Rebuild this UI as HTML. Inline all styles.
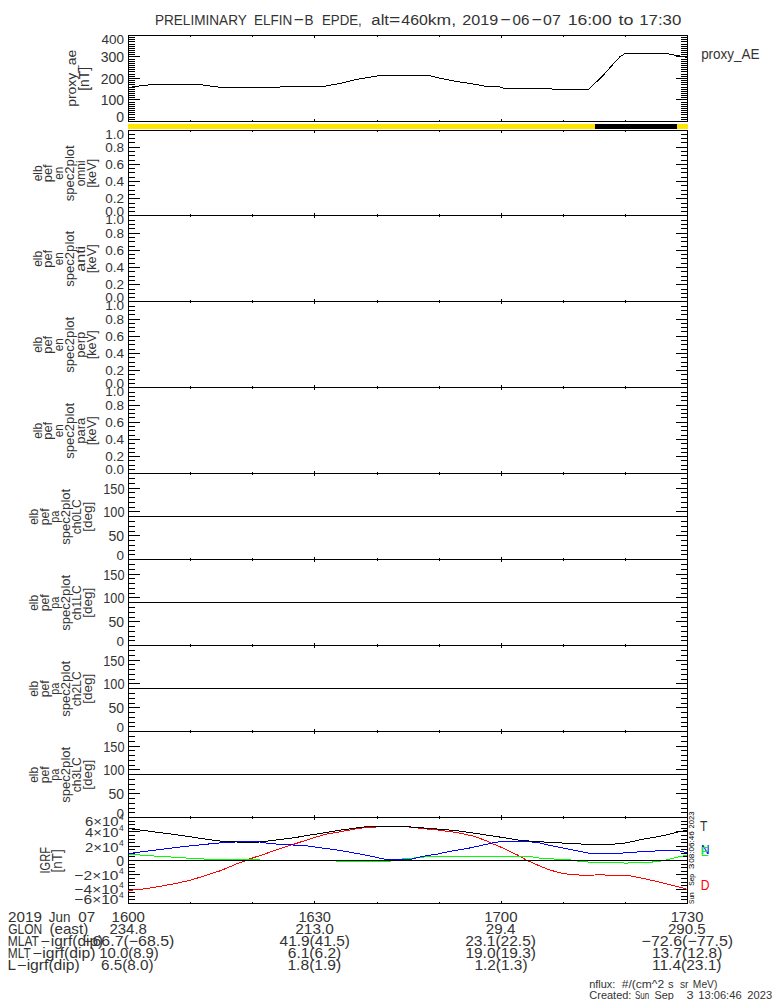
<!DOCTYPE html>
<html><head><meta charset="utf-8"><style>
html,body{margin:0;padding:0;background:#fff;width:775px;height:1000px;overflow:hidden}
svg{display:block}
text{font-family:"Liberation Sans",sans-serif}
rect{shape-rendering:crispEdges}
polyline{shape-rendering:crispEdges}
</style></head><body>
<svg width="775" height="1000" viewBox="0 0 775 1000">
<rect x="0" y="0" width="775" height="1000" fill="#fff"/>
<text x="154.89" y="25" font-size="15.5" text-anchor="start" fill="#333" textLength="91.91" lengthAdjust="spacingAndGlyphs">PRELIMINARY</text>
<text x="253.89" y="25" font-size="15.5" text-anchor="start" fill="#333" textLength="38.31" lengthAdjust="spacingAndGlyphs">ELFIN</text>
<text x="293.44" y="25" font-size="15.5" text-anchor="start" fill="#333" textLength="10.22" lengthAdjust="spacingAndGlyphs">−</text>
<text x="304.49" y="25" font-size="15.5" text-anchor="start" fill="#333" textLength="9.02" lengthAdjust="spacingAndGlyphs">B</text>
<text x="321.91" y="25" font-size="15.5" text-anchor="start" fill="#333" textLength="39.88" lengthAdjust="spacingAndGlyphs">EPDE,</text>
<text x="371.39" y="25" font-size="15.5" text-anchor="start" fill="#333" textLength="17.63" lengthAdjust="spacingAndGlyphs">alt</text>
<text x="389.06" y="25" font-size="15.5" text-anchor="start" fill="#333" textLength="11.3" lengthAdjust="spacingAndGlyphs">=</text>
<text x="401.34" y="25" font-size="15.5" text-anchor="start" fill="#333" textLength="26.48" lengthAdjust="spacingAndGlyphs">460</text>
<text x="427.82" y="25" font-size="15.5" text-anchor="start" fill="#333" textLength="28.26" lengthAdjust="spacingAndGlyphs">km,</text>
<text x="462.39" y="25" font-size="15.5" text-anchor="start" fill="#333" textLength="35.98" lengthAdjust="spacingAndGlyphs">2019</text>
<text x="500.24" y="25" font-size="15.5" text-anchor="start" fill="#333" textLength="10.22" lengthAdjust="spacingAndGlyphs">−</text>
<text x="512.61" y="25" font-size="15.5" text-anchor="start" fill="#333" textLength="16.86" lengthAdjust="spacingAndGlyphs">06</text>
<text x="531.54" y="25" font-size="15.5" text-anchor="start" fill="#333" textLength="10.22" lengthAdjust="spacingAndGlyphs">−</text>
<text x="543.08" y="25" font-size="15.5" text-anchor="start" fill="#333" textLength="17.72" lengthAdjust="spacingAndGlyphs">07</text>
<text x="567.66" y="25" font-size="15.5" text-anchor="start" fill="#333" textLength="44.03" lengthAdjust="spacingAndGlyphs">16:00</text>
<text x="618.53" y="25" font-size="15.5" text-anchor="start" fill="#333" textLength="14.92" lengthAdjust="spacingAndGlyphs">to</text>
<text x="639.22" y="25" font-size="15.5" text-anchor="start" fill="#333" textLength="42.14" lengthAdjust="spacingAndGlyphs">17:30</text>
<text x="701.13" y="59" font-size="14.5" text-anchor="start" fill="#333" textLength="58.45" lengthAdjust="spacingAndGlyphs">proxy_AE</text>
<rect x="128" y="35" width="560" height="1" fill="#000"/>
<rect x="128" y="121" width="560" height="1" fill="#000"/>
<rect x="128" y="35" width="1" height="87" fill="#000"/>
<rect x="687" y="35" width="1" height="87" fill="#000"/>
<rect x="314" y="36" width="1" height="2" fill="#000"/>
<rect x="314" y="119" width="1" height="2" fill="#000"/>
<rect x="501" y="36" width="1" height="2" fill="#000"/>
<rect x="501" y="119" width="1" height="2" fill="#000"/>
<rect x="190" y="36" width="1" height="1" fill="#000"/>
<rect x="190" y="120" width="1" height="1" fill="#000"/>
<rect x="252" y="36" width="1" height="1" fill="#000"/>
<rect x="252" y="120" width="1" height="1" fill="#000"/>
<rect x="377" y="36" width="1" height="1" fill="#000"/>
<rect x="377" y="120" width="1" height="1" fill="#000"/>
<rect x="439" y="36" width="1" height="1" fill="#000"/>
<rect x="439" y="120" width="1" height="1" fill="#000"/>
<rect x="563" y="36" width="1" height="1" fill="#000"/>
<rect x="563" y="120" width="1" height="1" fill="#000"/>
<rect x="625" y="36" width="1" height="1" fill="#000"/>
<rect x="625" y="120" width="1" height="1" fill="#000"/>
<rect x="128" y="130" width="560" height="1" fill="#000"/>
<rect x="128" y="215" width="560" height="1" fill="#000"/>
<rect x="128" y="130" width="1" height="86" fill="#000"/>
<rect x="687" y="130" width="1" height="86" fill="#000"/>
<rect x="314" y="131" width="1" height="2" fill="#000"/>
<rect x="314" y="213" width="1" height="2" fill="#000"/>
<rect x="501" y="131" width="1" height="2" fill="#000"/>
<rect x="501" y="213" width="1" height="2" fill="#000"/>
<rect x="190" y="131" width="1" height="1" fill="#000"/>
<rect x="190" y="214" width="1" height="1" fill="#000"/>
<rect x="252" y="131" width="1" height="1" fill="#000"/>
<rect x="252" y="214" width="1" height="1" fill="#000"/>
<rect x="377" y="131" width="1" height="1" fill="#000"/>
<rect x="377" y="214" width="1" height="1" fill="#000"/>
<rect x="439" y="131" width="1" height="1" fill="#000"/>
<rect x="439" y="214" width="1" height="1" fill="#000"/>
<rect x="563" y="131" width="1" height="1" fill="#000"/>
<rect x="563" y="214" width="1" height="1" fill="#000"/>
<rect x="625" y="131" width="1" height="1" fill="#000"/>
<rect x="625" y="214" width="1" height="1" fill="#000"/>
<rect x="128" y="215" width="560" height="1" fill="#000"/>
<rect x="128" y="301" width="560" height="1" fill="#000"/>
<rect x="128" y="215" width="1" height="87" fill="#000"/>
<rect x="687" y="215" width="1" height="87" fill="#000"/>
<rect x="314" y="216" width="1" height="2" fill="#000"/>
<rect x="314" y="299" width="1" height="2" fill="#000"/>
<rect x="501" y="216" width="1" height="2" fill="#000"/>
<rect x="501" y="299" width="1" height="2" fill="#000"/>
<rect x="190" y="216" width="1" height="1" fill="#000"/>
<rect x="190" y="300" width="1" height="1" fill="#000"/>
<rect x="252" y="216" width="1" height="1" fill="#000"/>
<rect x="252" y="300" width="1" height="1" fill="#000"/>
<rect x="377" y="216" width="1" height="1" fill="#000"/>
<rect x="377" y="300" width="1" height="1" fill="#000"/>
<rect x="439" y="216" width="1" height="1" fill="#000"/>
<rect x="439" y="300" width="1" height="1" fill="#000"/>
<rect x="563" y="216" width="1" height="1" fill="#000"/>
<rect x="563" y="300" width="1" height="1" fill="#000"/>
<rect x="625" y="216" width="1" height="1" fill="#000"/>
<rect x="625" y="300" width="1" height="1" fill="#000"/>
<rect x="128" y="301" width="560" height="1" fill="#000"/>
<rect x="128" y="387" width="560" height="1" fill="#000"/>
<rect x="128" y="301" width="1" height="87" fill="#000"/>
<rect x="687" y="301" width="1" height="87" fill="#000"/>
<rect x="314" y="302" width="1" height="2" fill="#000"/>
<rect x="314" y="385" width="1" height="2" fill="#000"/>
<rect x="501" y="302" width="1" height="2" fill="#000"/>
<rect x="501" y="385" width="1" height="2" fill="#000"/>
<rect x="190" y="302" width="1" height="1" fill="#000"/>
<rect x="190" y="386" width="1" height="1" fill="#000"/>
<rect x="252" y="302" width="1" height="1" fill="#000"/>
<rect x="252" y="386" width="1" height="1" fill="#000"/>
<rect x="377" y="302" width="1" height="1" fill="#000"/>
<rect x="377" y="386" width="1" height="1" fill="#000"/>
<rect x="439" y="302" width="1" height="1" fill="#000"/>
<rect x="439" y="386" width="1" height="1" fill="#000"/>
<rect x="563" y="302" width="1" height="1" fill="#000"/>
<rect x="563" y="386" width="1" height="1" fill="#000"/>
<rect x="625" y="302" width="1" height="1" fill="#000"/>
<rect x="625" y="386" width="1" height="1" fill="#000"/>
<rect x="128" y="387" width="560" height="1" fill="#000"/>
<rect x="128" y="473" width="560" height="1" fill="#000"/>
<rect x="128" y="387" width="1" height="87" fill="#000"/>
<rect x="687" y="387" width="1" height="87" fill="#000"/>
<rect x="314" y="388" width="1" height="2" fill="#000"/>
<rect x="314" y="471" width="1" height="2" fill="#000"/>
<rect x="501" y="388" width="1" height="2" fill="#000"/>
<rect x="501" y="471" width="1" height="2" fill="#000"/>
<rect x="190" y="388" width="1" height="1" fill="#000"/>
<rect x="190" y="472" width="1" height="1" fill="#000"/>
<rect x="252" y="388" width="1" height="1" fill="#000"/>
<rect x="252" y="472" width="1" height="1" fill="#000"/>
<rect x="377" y="388" width="1" height="1" fill="#000"/>
<rect x="377" y="472" width="1" height="1" fill="#000"/>
<rect x="439" y="388" width="1" height="1" fill="#000"/>
<rect x="439" y="472" width="1" height="1" fill="#000"/>
<rect x="563" y="388" width="1" height="1" fill="#000"/>
<rect x="563" y="472" width="1" height="1" fill="#000"/>
<rect x="625" y="388" width="1" height="1" fill="#000"/>
<rect x="625" y="472" width="1" height="1" fill="#000"/>
<rect x="128" y="473" width="560" height="1" fill="#000"/>
<rect x="128" y="559" width="560" height="1" fill="#000"/>
<rect x="128" y="473" width="1" height="87" fill="#000"/>
<rect x="687" y="473" width="1" height="87" fill="#000"/>
<rect x="314" y="474" width="1" height="2" fill="#000"/>
<rect x="314" y="557" width="1" height="2" fill="#000"/>
<rect x="501" y="474" width="1" height="2" fill="#000"/>
<rect x="501" y="557" width="1" height="2" fill="#000"/>
<rect x="190" y="474" width="1" height="1" fill="#000"/>
<rect x="190" y="558" width="1" height="1" fill="#000"/>
<rect x="252" y="474" width="1" height="1" fill="#000"/>
<rect x="252" y="558" width="1" height="1" fill="#000"/>
<rect x="377" y="474" width="1" height="1" fill="#000"/>
<rect x="377" y="558" width="1" height="1" fill="#000"/>
<rect x="439" y="474" width="1" height="1" fill="#000"/>
<rect x="439" y="558" width="1" height="1" fill="#000"/>
<rect x="563" y="474" width="1" height="1" fill="#000"/>
<rect x="563" y="558" width="1" height="1" fill="#000"/>
<rect x="625" y="474" width="1" height="1" fill="#000"/>
<rect x="625" y="558" width="1" height="1" fill="#000"/>
<rect x="128" y="559" width="560" height="1" fill="#000"/>
<rect x="128" y="645" width="560" height="1" fill="#000"/>
<rect x="128" y="559" width="1" height="87" fill="#000"/>
<rect x="687" y="559" width="1" height="87" fill="#000"/>
<rect x="314" y="560" width="1" height="2" fill="#000"/>
<rect x="314" y="643" width="1" height="2" fill="#000"/>
<rect x="501" y="560" width="1" height="2" fill="#000"/>
<rect x="501" y="643" width="1" height="2" fill="#000"/>
<rect x="190" y="560" width="1" height="1" fill="#000"/>
<rect x="190" y="644" width="1" height="1" fill="#000"/>
<rect x="252" y="560" width="1" height="1" fill="#000"/>
<rect x="252" y="644" width="1" height="1" fill="#000"/>
<rect x="377" y="560" width="1" height="1" fill="#000"/>
<rect x="377" y="644" width="1" height="1" fill="#000"/>
<rect x="439" y="560" width="1" height="1" fill="#000"/>
<rect x="439" y="644" width="1" height="1" fill="#000"/>
<rect x="563" y="560" width="1" height="1" fill="#000"/>
<rect x="563" y="644" width="1" height="1" fill="#000"/>
<rect x="625" y="560" width="1" height="1" fill="#000"/>
<rect x="625" y="644" width="1" height="1" fill="#000"/>
<rect x="128" y="645" width="560" height="1" fill="#000"/>
<rect x="128" y="731" width="560" height="1" fill="#000"/>
<rect x="128" y="645" width="1" height="87" fill="#000"/>
<rect x="687" y="645" width="1" height="87" fill="#000"/>
<rect x="314" y="646" width="1" height="2" fill="#000"/>
<rect x="314" y="729" width="1" height="2" fill="#000"/>
<rect x="501" y="646" width="1" height="2" fill="#000"/>
<rect x="501" y="729" width="1" height="2" fill="#000"/>
<rect x="190" y="646" width="1" height="1" fill="#000"/>
<rect x="190" y="730" width="1" height="1" fill="#000"/>
<rect x="252" y="646" width="1" height="1" fill="#000"/>
<rect x="252" y="730" width="1" height="1" fill="#000"/>
<rect x="377" y="646" width="1" height="1" fill="#000"/>
<rect x="377" y="730" width="1" height="1" fill="#000"/>
<rect x="439" y="646" width="1" height="1" fill="#000"/>
<rect x="439" y="730" width="1" height="1" fill="#000"/>
<rect x="563" y="646" width="1" height="1" fill="#000"/>
<rect x="563" y="730" width="1" height="1" fill="#000"/>
<rect x="625" y="646" width="1" height="1" fill="#000"/>
<rect x="625" y="730" width="1" height="1" fill="#000"/>
<rect x="128" y="731" width="560" height="1" fill="#000"/>
<rect x="128" y="817" width="560" height="1" fill="#000"/>
<rect x="128" y="731" width="1" height="87" fill="#000"/>
<rect x="687" y="731" width="1" height="87" fill="#000"/>
<rect x="314" y="732" width="1" height="2" fill="#000"/>
<rect x="314" y="815" width="1" height="2" fill="#000"/>
<rect x="501" y="732" width="1" height="2" fill="#000"/>
<rect x="501" y="815" width="1" height="2" fill="#000"/>
<rect x="190" y="732" width="1" height="1" fill="#000"/>
<rect x="190" y="816" width="1" height="1" fill="#000"/>
<rect x="252" y="732" width="1" height="1" fill="#000"/>
<rect x="252" y="816" width="1" height="1" fill="#000"/>
<rect x="377" y="732" width="1" height="1" fill="#000"/>
<rect x="377" y="816" width="1" height="1" fill="#000"/>
<rect x="439" y="732" width="1" height="1" fill="#000"/>
<rect x="439" y="816" width="1" height="1" fill="#000"/>
<rect x="563" y="732" width="1" height="1" fill="#000"/>
<rect x="563" y="816" width="1" height="1" fill="#000"/>
<rect x="625" y="732" width="1" height="1" fill="#000"/>
<rect x="625" y="816" width="1" height="1" fill="#000"/>
<rect x="128" y="817" width="560" height="1" fill="#000"/>
<rect x="128" y="903" width="560" height="1" fill="#000"/>
<rect x="128" y="817" width="1" height="87" fill="#000"/>
<rect x="687" y="817" width="1" height="87" fill="#000"/>
<rect x="314" y="818" width="1" height="2" fill="#000"/>
<rect x="314" y="901" width="1" height="2" fill="#000"/>
<rect x="501" y="818" width="1" height="2" fill="#000"/>
<rect x="501" y="901" width="1" height="2" fill="#000"/>
<rect x="190" y="818" width="1" height="1" fill="#000"/>
<rect x="190" y="902" width="1" height="1" fill="#000"/>
<rect x="252" y="818" width="1" height="1" fill="#000"/>
<rect x="252" y="902" width="1" height="1" fill="#000"/>
<rect x="377" y="818" width="1" height="1" fill="#000"/>
<rect x="377" y="902" width="1" height="1" fill="#000"/>
<rect x="439" y="818" width="1" height="1" fill="#000"/>
<rect x="439" y="902" width="1" height="1" fill="#000"/>
<rect x="563" y="818" width="1" height="1" fill="#000"/>
<rect x="563" y="902" width="1" height="1" fill="#000"/>
<rect x="625" y="818" width="1" height="1" fill="#000"/>
<rect x="625" y="902" width="1" height="1" fill="#000"/>
<rect x="129" y="119" width="6" height="1" fill="#000"/>
<rect x="681" y="119" width="6" height="1" fill="#000"/>
<rect x="129" y="117" width="6" height="1" fill="#000"/>
<rect x="681" y="117" width="6" height="1" fill="#000"/>
<rect x="129" y="114" width="6" height="1" fill="#000"/>
<rect x="681" y="114" width="6" height="1" fill="#000"/>
<rect x="129" y="112" width="6" height="1" fill="#000"/>
<rect x="681" y="112" width="6" height="1" fill="#000"/>
<rect x="129" y="110" width="6" height="1" fill="#000"/>
<rect x="681" y="110" width="6" height="1" fill="#000"/>
<rect x="129" y="108" width="6" height="1" fill="#000"/>
<rect x="681" y="108" width="6" height="1" fill="#000"/>
<rect x="129" y="106" width="6" height="1" fill="#000"/>
<rect x="681" y="106" width="6" height="1" fill="#000"/>
<rect x="129" y="104" width="6" height="1" fill="#000"/>
<rect x="681" y="104" width="6" height="1" fill="#000"/>
<rect x="129" y="102" width="6" height="1" fill="#000"/>
<rect x="681" y="102" width="6" height="1" fill="#000"/>
<rect x="129" y="99" width="11" height="1" fill="#000"/>
<rect x="676" y="99" width="11" height="1" fill="#000"/>
<rect x="129" y="97" width="6" height="1" fill="#000"/>
<rect x="681" y="97" width="6" height="1" fill="#000"/>
<rect x="129" y="95" width="6" height="1" fill="#000"/>
<rect x="681" y="95" width="6" height="1" fill="#000"/>
<rect x="129" y="93" width="6" height="1" fill="#000"/>
<rect x="681" y="93" width="6" height="1" fill="#000"/>
<rect x="129" y="91" width="6" height="1" fill="#000"/>
<rect x="681" y="91" width="6" height="1" fill="#000"/>
<rect x="129" y="89" width="6" height="1" fill="#000"/>
<rect x="681" y="89" width="6" height="1" fill="#000"/>
<rect x="129" y="87" width="6" height="1" fill="#000"/>
<rect x="681" y="87" width="6" height="1" fill="#000"/>
<rect x="129" y="84" width="6" height="1" fill="#000"/>
<rect x="681" y="84" width="6" height="1" fill="#000"/>
<rect x="129" y="82" width="6" height="1" fill="#000"/>
<rect x="681" y="82" width="6" height="1" fill="#000"/>
<rect x="129" y="80" width="6" height="1" fill="#000"/>
<rect x="681" y="80" width="6" height="1" fill="#000"/>
<rect x="129" y="78" width="11" height="1" fill="#000"/>
<rect x="676" y="78" width="11" height="1" fill="#000"/>
<rect x="129" y="76" width="6" height="1" fill="#000"/>
<rect x="681" y="76" width="6" height="1" fill="#000"/>
<rect x="129" y="74" width="6" height="1" fill="#000"/>
<rect x="681" y="74" width="6" height="1" fill="#000"/>
<rect x="129" y="71" width="6" height="1" fill="#000"/>
<rect x="681" y="71" width="6" height="1" fill="#000"/>
<rect x="129" y="69" width="6" height="1" fill="#000"/>
<rect x="681" y="69" width="6" height="1" fill="#000"/>
<rect x="129" y="67" width="6" height="1" fill="#000"/>
<rect x="681" y="67" width="6" height="1" fill="#000"/>
<rect x="129" y="65" width="6" height="1" fill="#000"/>
<rect x="681" y="65" width="6" height="1" fill="#000"/>
<rect x="129" y="63" width="6" height="1" fill="#000"/>
<rect x="681" y="63" width="6" height="1" fill="#000"/>
<rect x="129" y="61" width="6" height="1" fill="#000"/>
<rect x="681" y="61" width="6" height="1" fill="#000"/>
<rect x="129" y="59" width="6" height="1" fill="#000"/>
<rect x="681" y="59" width="6" height="1" fill="#000"/>
<rect x="129" y="56" width="11" height="1" fill="#000"/>
<rect x="676" y="56" width="11" height="1" fill="#000"/>
<rect x="129" y="54" width="6" height="1" fill="#000"/>
<rect x="681" y="54" width="6" height="1" fill="#000"/>
<rect x="129" y="52" width="6" height="1" fill="#000"/>
<rect x="681" y="52" width="6" height="1" fill="#000"/>
<rect x="129" y="50" width="6" height="1" fill="#000"/>
<rect x="681" y="50" width="6" height="1" fill="#000"/>
<rect x="129" y="48" width="6" height="1" fill="#000"/>
<rect x="681" y="48" width="6" height="1" fill="#000"/>
<rect x="129" y="46" width="6" height="1" fill="#000"/>
<rect x="681" y="46" width="6" height="1" fill="#000"/>
<rect x="129" y="44" width="6" height="1" fill="#000"/>
<rect x="681" y="44" width="6" height="1" fill="#000"/>
<rect x="129" y="41" width="6" height="1" fill="#000"/>
<rect x="681" y="41" width="6" height="1" fill="#000"/>
<rect x="129" y="39" width="6" height="1" fill="#000"/>
<rect x="681" y="39" width="6" height="1" fill="#000"/>
<rect x="129" y="37" width="6" height="1" fill="#000"/>
<rect x="681" y="37" width="6" height="1" fill="#000"/>
<rect x="129" y="211" width="6" height="1" fill="#000"/>
<rect x="681" y="211" width="6" height="1" fill="#000"/>
<rect x="129" y="207" width="6" height="1" fill="#000"/>
<rect x="681" y="207" width="6" height="1" fill="#000"/>
<rect x="129" y="203" width="6" height="1" fill="#000"/>
<rect x="681" y="203" width="6" height="1" fill="#000"/>
<rect x="129" y="198" width="11" height="1" fill="#000"/>
<rect x="676" y="198" width="11" height="1" fill="#000"/>
<rect x="129" y="194" width="6" height="1" fill="#000"/>
<rect x="681" y="194" width="6" height="1" fill="#000"/>
<rect x="129" y="190" width="6" height="1" fill="#000"/>
<rect x="681" y="190" width="6" height="1" fill="#000"/>
<rect x="129" y="185" width="6" height="1" fill="#000"/>
<rect x="681" y="185" width="6" height="1" fill="#000"/>
<rect x="129" y="181" width="11" height="1" fill="#000"/>
<rect x="676" y="181" width="11" height="1" fill="#000"/>
<rect x="129" y="177" width="6" height="1" fill="#000"/>
<rect x="681" y="177" width="6" height="1" fill="#000"/>
<rect x="129" y="172" width="6" height="1" fill="#000"/>
<rect x="681" y="172" width="6" height="1" fill="#000"/>
<rect x="129" y="168" width="6" height="1" fill="#000"/>
<rect x="681" y="168" width="6" height="1" fill="#000"/>
<rect x="129" y="164" width="11" height="1" fill="#000"/>
<rect x="676" y="164" width="11" height="1" fill="#000"/>
<rect x="129" y="160" width="6" height="1" fill="#000"/>
<rect x="681" y="160" width="6" height="1" fill="#000"/>
<rect x="129" y="155" width="6" height="1" fill="#000"/>
<rect x="681" y="155" width="6" height="1" fill="#000"/>
<rect x="129" y="151" width="6" height="1" fill="#000"/>
<rect x="681" y="151" width="6" height="1" fill="#000"/>
<rect x="129" y="147" width="11" height="1" fill="#000"/>
<rect x="676" y="147" width="11" height="1" fill="#000"/>
<rect x="129" y="142" width="6" height="1" fill="#000"/>
<rect x="681" y="142" width="6" height="1" fill="#000"/>
<rect x="129" y="138" width="6" height="1" fill="#000"/>
<rect x="681" y="138" width="6" height="1" fill="#000"/>
<rect x="129" y="134" width="6" height="1" fill="#000"/>
<rect x="681" y="134" width="6" height="1" fill="#000"/>
<rect x="129" y="297" width="6" height="1" fill="#000"/>
<rect x="681" y="297" width="6" height="1" fill="#000"/>
<rect x="129" y="293" width="6" height="1" fill="#000"/>
<rect x="681" y="293" width="6" height="1" fill="#000"/>
<rect x="129" y="289" width="6" height="1" fill="#000"/>
<rect x="681" y="289" width="6" height="1" fill="#000"/>
<rect x="129" y="284" width="11" height="1" fill="#000"/>
<rect x="676" y="284" width="11" height="1" fill="#000"/>
<rect x="129" y="280" width="6" height="1" fill="#000"/>
<rect x="681" y="280" width="6" height="1" fill="#000"/>
<rect x="129" y="276" width="6" height="1" fill="#000"/>
<rect x="681" y="276" width="6" height="1" fill="#000"/>
<rect x="129" y="271" width="6" height="1" fill="#000"/>
<rect x="681" y="271" width="6" height="1" fill="#000"/>
<rect x="129" y="267" width="11" height="1" fill="#000"/>
<rect x="676" y="267" width="11" height="1" fill="#000"/>
<rect x="129" y="263" width="6" height="1" fill="#000"/>
<rect x="681" y="263" width="6" height="1" fill="#000"/>
<rect x="129" y="258" width="6" height="1" fill="#000"/>
<rect x="681" y="258" width="6" height="1" fill="#000"/>
<rect x="129" y="254" width="6" height="1" fill="#000"/>
<rect x="681" y="254" width="6" height="1" fill="#000"/>
<rect x="129" y="250" width="11" height="1" fill="#000"/>
<rect x="676" y="250" width="11" height="1" fill="#000"/>
<rect x="129" y="246" width="6" height="1" fill="#000"/>
<rect x="681" y="246" width="6" height="1" fill="#000"/>
<rect x="129" y="241" width="6" height="1" fill="#000"/>
<rect x="681" y="241" width="6" height="1" fill="#000"/>
<rect x="129" y="237" width="6" height="1" fill="#000"/>
<rect x="681" y="237" width="6" height="1" fill="#000"/>
<rect x="129" y="233" width="11" height="1" fill="#000"/>
<rect x="676" y="233" width="11" height="1" fill="#000"/>
<rect x="129" y="228" width="6" height="1" fill="#000"/>
<rect x="681" y="228" width="6" height="1" fill="#000"/>
<rect x="129" y="224" width="6" height="1" fill="#000"/>
<rect x="681" y="224" width="6" height="1" fill="#000"/>
<rect x="129" y="220" width="6" height="1" fill="#000"/>
<rect x="681" y="220" width="6" height="1" fill="#000"/>
<rect x="129" y="383" width="6" height="1" fill="#000"/>
<rect x="681" y="383" width="6" height="1" fill="#000"/>
<rect x="129" y="379" width="6" height="1" fill="#000"/>
<rect x="681" y="379" width="6" height="1" fill="#000"/>
<rect x="129" y="374" width="6" height="1" fill="#000"/>
<rect x="681" y="374" width="6" height="1" fill="#000"/>
<rect x="129" y="370" width="11" height="1" fill="#000"/>
<rect x="676" y="370" width="11" height="1" fill="#000"/>
<rect x="129" y="366" width="6" height="1" fill="#000"/>
<rect x="681" y="366" width="6" height="1" fill="#000"/>
<rect x="129" y="362" width="6" height="1" fill="#000"/>
<rect x="681" y="362" width="6" height="1" fill="#000"/>
<rect x="129" y="357" width="6" height="1" fill="#000"/>
<rect x="681" y="357" width="6" height="1" fill="#000"/>
<rect x="129" y="353" width="11" height="1" fill="#000"/>
<rect x="676" y="353" width="11" height="1" fill="#000"/>
<rect x="129" y="349" width="6" height="1" fill="#000"/>
<rect x="681" y="349" width="6" height="1" fill="#000"/>
<rect x="129" y="344" width="6" height="1" fill="#000"/>
<rect x="681" y="344" width="6" height="1" fill="#000"/>
<rect x="129" y="340" width="6" height="1" fill="#000"/>
<rect x="681" y="340" width="6" height="1" fill="#000"/>
<rect x="129" y="336" width="11" height="1" fill="#000"/>
<rect x="676" y="336" width="11" height="1" fill="#000"/>
<rect x="129" y="331" width="6" height="1" fill="#000"/>
<rect x="681" y="331" width="6" height="1" fill="#000"/>
<rect x="129" y="327" width="6" height="1" fill="#000"/>
<rect x="681" y="327" width="6" height="1" fill="#000"/>
<rect x="129" y="323" width="6" height="1" fill="#000"/>
<rect x="681" y="323" width="6" height="1" fill="#000"/>
<rect x="129" y="319" width="11" height="1" fill="#000"/>
<rect x="676" y="319" width="11" height="1" fill="#000"/>
<rect x="129" y="314" width="6" height="1" fill="#000"/>
<rect x="681" y="314" width="6" height="1" fill="#000"/>
<rect x="129" y="310" width="6" height="1" fill="#000"/>
<rect x="681" y="310" width="6" height="1" fill="#000"/>
<rect x="129" y="306" width="6" height="1" fill="#000"/>
<rect x="681" y="306" width="6" height="1" fill="#000"/>
<rect x="129" y="469" width="6" height="1" fill="#000"/>
<rect x="681" y="469" width="6" height="1" fill="#000"/>
<rect x="129" y="465" width="6" height="1" fill="#000"/>
<rect x="681" y="465" width="6" height="1" fill="#000"/>
<rect x="129" y="460" width="6" height="1" fill="#000"/>
<rect x="681" y="460" width="6" height="1" fill="#000"/>
<rect x="129" y="456" width="11" height="1" fill="#000"/>
<rect x="676" y="456" width="11" height="1" fill="#000"/>
<rect x="129" y="452" width="6" height="1" fill="#000"/>
<rect x="681" y="452" width="6" height="1" fill="#000"/>
<rect x="129" y="448" width="6" height="1" fill="#000"/>
<rect x="681" y="448" width="6" height="1" fill="#000"/>
<rect x="129" y="443" width="6" height="1" fill="#000"/>
<rect x="681" y="443" width="6" height="1" fill="#000"/>
<rect x="129" y="439" width="11" height="1" fill="#000"/>
<rect x="676" y="439" width="11" height="1" fill="#000"/>
<rect x="129" y="435" width="6" height="1" fill="#000"/>
<rect x="681" y="435" width="6" height="1" fill="#000"/>
<rect x="129" y="430" width="6" height="1" fill="#000"/>
<rect x="681" y="430" width="6" height="1" fill="#000"/>
<rect x="129" y="426" width="6" height="1" fill="#000"/>
<rect x="681" y="426" width="6" height="1" fill="#000"/>
<rect x="129" y="422" width="11" height="1" fill="#000"/>
<rect x="676" y="422" width="11" height="1" fill="#000"/>
<rect x="129" y="417" width="6" height="1" fill="#000"/>
<rect x="681" y="417" width="6" height="1" fill="#000"/>
<rect x="129" y="413" width="6" height="1" fill="#000"/>
<rect x="681" y="413" width="6" height="1" fill="#000"/>
<rect x="129" y="409" width="6" height="1" fill="#000"/>
<rect x="681" y="409" width="6" height="1" fill="#000"/>
<rect x="129" y="405" width="11" height="1" fill="#000"/>
<rect x="676" y="405" width="11" height="1" fill="#000"/>
<rect x="129" y="400" width="6" height="1" fill="#000"/>
<rect x="681" y="400" width="6" height="1" fill="#000"/>
<rect x="129" y="396" width="6" height="1" fill="#000"/>
<rect x="681" y="396" width="6" height="1" fill="#000"/>
<rect x="129" y="392" width="6" height="1" fill="#000"/>
<rect x="681" y="392" width="6" height="1" fill="#000"/>
<rect x="129" y="554" width="6" height="1" fill="#000"/>
<rect x="681" y="554" width="6" height="1" fill="#000"/>
<rect x="129" y="550" width="6" height="1" fill="#000"/>
<rect x="681" y="550" width="6" height="1" fill="#000"/>
<rect x="129" y="545" width="6" height="1" fill="#000"/>
<rect x="681" y="545" width="6" height="1" fill="#000"/>
<rect x="129" y="540" width="6" height="1" fill="#000"/>
<rect x="681" y="540" width="6" height="1" fill="#000"/>
<rect x="129" y="535" width="11" height="1" fill="#000"/>
<rect x="676" y="535" width="11" height="1" fill="#000"/>
<rect x="129" y="531" width="6" height="1" fill="#000"/>
<rect x="681" y="531" width="6" height="1" fill="#000"/>
<rect x="129" y="526" width="6" height="1" fill="#000"/>
<rect x="681" y="526" width="6" height="1" fill="#000"/>
<rect x="129" y="521" width="6" height="1" fill="#000"/>
<rect x="681" y="521" width="6" height="1" fill="#000"/>
<rect x="129" y="516" width="6" height="1" fill="#000"/>
<rect x="681" y="516" width="6" height="1" fill="#000"/>
<rect x="129" y="511" width="11" height="1" fill="#000"/>
<rect x="676" y="511" width="11" height="1" fill="#000"/>
<rect x="129" y="507" width="6" height="1" fill="#000"/>
<rect x="681" y="507" width="6" height="1" fill="#000"/>
<rect x="129" y="502" width="6" height="1" fill="#000"/>
<rect x="681" y="502" width="6" height="1" fill="#000"/>
<rect x="129" y="497" width="6" height="1" fill="#000"/>
<rect x="681" y="497" width="6" height="1" fill="#000"/>
<rect x="129" y="492" width="6" height="1" fill="#000"/>
<rect x="681" y="492" width="6" height="1" fill="#000"/>
<rect x="129" y="488" width="11" height="1" fill="#000"/>
<rect x="676" y="488" width="11" height="1" fill="#000"/>
<rect x="129" y="483" width="6" height="1" fill="#000"/>
<rect x="681" y="483" width="6" height="1" fill="#000"/>
<rect x="129" y="478" width="6" height="1" fill="#000"/>
<rect x="681" y="478" width="6" height="1" fill="#000"/>
<rect x="128" y="516" width="560" height="1" fill="#000"/>
<rect x="129" y="640" width="6" height="1" fill="#000"/>
<rect x="681" y="640" width="6" height="1" fill="#000"/>
<rect x="129" y="636" width="6" height="1" fill="#000"/>
<rect x="681" y="636" width="6" height="1" fill="#000"/>
<rect x="129" y="631" width="6" height="1" fill="#000"/>
<rect x="681" y="631" width="6" height="1" fill="#000"/>
<rect x="129" y="626" width="6" height="1" fill="#000"/>
<rect x="681" y="626" width="6" height="1" fill="#000"/>
<rect x="129" y="621" width="11" height="1" fill="#000"/>
<rect x="676" y="621" width="11" height="1" fill="#000"/>
<rect x="129" y="617" width="6" height="1" fill="#000"/>
<rect x="681" y="617" width="6" height="1" fill="#000"/>
<rect x="129" y="612" width="6" height="1" fill="#000"/>
<rect x="681" y="612" width="6" height="1" fill="#000"/>
<rect x="129" y="607" width="6" height="1" fill="#000"/>
<rect x="681" y="607" width="6" height="1" fill="#000"/>
<rect x="129" y="602" width="6" height="1" fill="#000"/>
<rect x="681" y="602" width="6" height="1" fill="#000"/>
<rect x="129" y="597" width="11" height="1" fill="#000"/>
<rect x="676" y="597" width="11" height="1" fill="#000"/>
<rect x="129" y="593" width="6" height="1" fill="#000"/>
<rect x="681" y="593" width="6" height="1" fill="#000"/>
<rect x="129" y="588" width="6" height="1" fill="#000"/>
<rect x="681" y="588" width="6" height="1" fill="#000"/>
<rect x="129" y="583" width="6" height="1" fill="#000"/>
<rect x="681" y="583" width="6" height="1" fill="#000"/>
<rect x="129" y="578" width="6" height="1" fill="#000"/>
<rect x="681" y="578" width="6" height="1" fill="#000"/>
<rect x="129" y="574" width="11" height="1" fill="#000"/>
<rect x="676" y="574" width="11" height="1" fill="#000"/>
<rect x="129" y="569" width="6" height="1" fill="#000"/>
<rect x="681" y="569" width="6" height="1" fill="#000"/>
<rect x="129" y="564" width="6" height="1" fill="#000"/>
<rect x="681" y="564" width="6" height="1" fill="#000"/>
<rect x="128" y="602" width="560" height="1" fill="#000"/>
<rect x="129" y="726" width="6" height="1" fill="#000"/>
<rect x="681" y="726" width="6" height="1" fill="#000"/>
<rect x="129" y="722" width="6" height="1" fill="#000"/>
<rect x="681" y="722" width="6" height="1" fill="#000"/>
<rect x="129" y="717" width="6" height="1" fill="#000"/>
<rect x="681" y="717" width="6" height="1" fill="#000"/>
<rect x="129" y="712" width="6" height="1" fill="#000"/>
<rect x="681" y="712" width="6" height="1" fill="#000"/>
<rect x="129" y="707" width="11" height="1" fill="#000"/>
<rect x="676" y="707" width="11" height="1" fill="#000"/>
<rect x="129" y="703" width="6" height="1" fill="#000"/>
<rect x="681" y="703" width="6" height="1" fill="#000"/>
<rect x="129" y="698" width="6" height="1" fill="#000"/>
<rect x="681" y="698" width="6" height="1" fill="#000"/>
<rect x="129" y="693" width="6" height="1" fill="#000"/>
<rect x="681" y="693" width="6" height="1" fill="#000"/>
<rect x="129" y="688" width="6" height="1" fill="#000"/>
<rect x="681" y="688" width="6" height="1" fill="#000"/>
<rect x="129" y="683" width="11" height="1" fill="#000"/>
<rect x="676" y="683" width="11" height="1" fill="#000"/>
<rect x="129" y="679" width="6" height="1" fill="#000"/>
<rect x="681" y="679" width="6" height="1" fill="#000"/>
<rect x="129" y="674" width="6" height="1" fill="#000"/>
<rect x="681" y="674" width="6" height="1" fill="#000"/>
<rect x="129" y="669" width="6" height="1" fill="#000"/>
<rect x="681" y="669" width="6" height="1" fill="#000"/>
<rect x="129" y="664" width="6" height="1" fill="#000"/>
<rect x="681" y="664" width="6" height="1" fill="#000"/>
<rect x="129" y="660" width="11" height="1" fill="#000"/>
<rect x="676" y="660" width="11" height="1" fill="#000"/>
<rect x="129" y="655" width="6" height="1" fill="#000"/>
<rect x="681" y="655" width="6" height="1" fill="#000"/>
<rect x="129" y="650" width="6" height="1" fill="#000"/>
<rect x="681" y="650" width="6" height="1" fill="#000"/>
<rect x="128" y="688" width="560" height="1" fill="#000"/>
<rect x="129" y="812" width="6" height="1" fill="#000"/>
<rect x="681" y="812" width="6" height="1" fill="#000"/>
<rect x="129" y="808" width="6" height="1" fill="#000"/>
<rect x="681" y="808" width="6" height="1" fill="#000"/>
<rect x="129" y="803" width="6" height="1" fill="#000"/>
<rect x="681" y="803" width="6" height="1" fill="#000"/>
<rect x="129" y="798" width="6" height="1" fill="#000"/>
<rect x="681" y="798" width="6" height="1" fill="#000"/>
<rect x="129" y="793" width="11" height="1" fill="#000"/>
<rect x="676" y="793" width="11" height="1" fill="#000"/>
<rect x="129" y="789" width="6" height="1" fill="#000"/>
<rect x="681" y="789" width="6" height="1" fill="#000"/>
<rect x="129" y="784" width="6" height="1" fill="#000"/>
<rect x="681" y="784" width="6" height="1" fill="#000"/>
<rect x="129" y="779" width="6" height="1" fill="#000"/>
<rect x="681" y="779" width="6" height="1" fill="#000"/>
<rect x="129" y="774" width="6" height="1" fill="#000"/>
<rect x="681" y="774" width="6" height="1" fill="#000"/>
<rect x="129" y="769" width="11" height="1" fill="#000"/>
<rect x="676" y="769" width="11" height="1" fill="#000"/>
<rect x="129" y="765" width="6" height="1" fill="#000"/>
<rect x="681" y="765" width="6" height="1" fill="#000"/>
<rect x="129" y="760" width="6" height="1" fill="#000"/>
<rect x="681" y="760" width="6" height="1" fill="#000"/>
<rect x="129" y="755" width="6" height="1" fill="#000"/>
<rect x="681" y="755" width="6" height="1" fill="#000"/>
<rect x="129" y="750" width="6" height="1" fill="#000"/>
<rect x="681" y="750" width="6" height="1" fill="#000"/>
<rect x="129" y="746" width="11" height="1" fill="#000"/>
<rect x="676" y="746" width="11" height="1" fill="#000"/>
<rect x="129" y="741" width="6" height="1" fill="#000"/>
<rect x="681" y="741" width="6" height="1" fill="#000"/>
<rect x="129" y="736" width="6" height="1" fill="#000"/>
<rect x="681" y="736" width="6" height="1" fill="#000"/>
<rect x="128" y="774" width="560" height="1" fill="#000"/>
<rect x="129" y="899" width="6" height="1" fill="#000"/>
<rect x="681" y="899" width="6" height="1" fill="#000"/>
<rect x="129" y="896" width="6" height="1" fill="#000"/>
<rect x="681" y="896" width="6" height="1" fill="#000"/>
<rect x="129" y="892" width="6" height="1" fill="#000"/>
<rect x="681" y="892" width="6" height="1" fill="#000"/>
<rect x="129" y="889" width="11" height="1" fill="#000"/>
<rect x="676" y="889" width="11" height="1" fill="#000"/>
<rect x="129" y="885" width="6" height="1" fill="#000"/>
<rect x="681" y="885" width="6" height="1" fill="#000"/>
<rect x="129" y="882" width="6" height="1" fill="#000"/>
<rect x="681" y="882" width="6" height="1" fill="#000"/>
<rect x="129" y="878" width="6" height="1" fill="#000"/>
<rect x="681" y="878" width="6" height="1" fill="#000"/>
<rect x="129" y="874" width="11" height="1" fill="#000"/>
<rect x="676" y="874" width="11" height="1" fill="#000"/>
<rect x="129" y="871" width="6" height="1" fill="#000"/>
<rect x="681" y="871" width="6" height="1" fill="#000"/>
<rect x="129" y="867" width="6" height="1" fill="#000"/>
<rect x="681" y="867" width="6" height="1" fill="#000"/>
<rect x="129" y="864" width="6" height="1" fill="#000"/>
<rect x="681" y="864" width="6" height="1" fill="#000"/>
<rect x="129" y="860" width="11" height="1" fill="#000"/>
<rect x="676" y="860" width="11" height="1" fill="#000"/>
<rect x="129" y="856" width="6" height="1" fill="#000"/>
<rect x="681" y="856" width="6" height="1" fill="#000"/>
<rect x="129" y="853" width="6" height="1" fill="#000"/>
<rect x="681" y="853" width="6" height="1" fill="#000"/>
<rect x="129" y="849" width="6" height="1" fill="#000"/>
<rect x="681" y="849" width="6" height="1" fill="#000"/>
<rect x="129" y="846" width="11" height="1" fill="#000"/>
<rect x="676" y="846" width="11" height="1" fill="#000"/>
<rect x="129" y="842" width="6" height="1" fill="#000"/>
<rect x="681" y="842" width="6" height="1" fill="#000"/>
<rect x="129" y="839" width="6" height="1" fill="#000"/>
<rect x="681" y="839" width="6" height="1" fill="#000"/>
<rect x="129" y="835" width="6" height="1" fill="#000"/>
<rect x="681" y="835" width="6" height="1" fill="#000"/>
<rect x="129" y="831" width="11" height="1" fill="#000"/>
<rect x="676" y="831" width="11" height="1" fill="#000"/>
<rect x="129" y="828" width="6" height="1" fill="#000"/>
<rect x="681" y="828" width="6" height="1" fill="#000"/>
<rect x="129" y="824" width="6" height="1" fill="#000"/>
<rect x="681" y="824" width="6" height="1" fill="#000"/>
<rect x="129" y="821" width="6" height="1" fill="#000"/>
<rect x="681" y="821" width="6" height="1" fill="#000"/>
<rect x="128" y="860" width="560" height="1" fill="#000"/>
<rect x="128" y="124" width="560" height="5" fill="#ffe600"/>
<rect x="595" y="124" width="82" height="5" fill="#000"/>
<text x="124" y="43.9" font-size="13.5" text-anchor="end" fill="#333">400</text>
<text x="124" y="61.9" font-size="14" text-anchor="end" fill="#333">300</text>
<text x="124" y="83.9" font-size="14" text-anchor="end" fill="#333">200</text>
<text x="124" y="104.9" font-size="14" text-anchor="end" fill="#333">100</text>
<text x="124" y="121.9" font-size="14" text-anchor="end" fill="#333">0</text>
<text x="124" y="138.9" font-size="13.5" text-anchor="end" fill="#333">1.0</text>
<text x="124" y="151.9" font-size="13.5" text-anchor="end" fill="#333">0.8</text>
<text x="124" y="168.9" font-size="13.5" text-anchor="end" fill="#333">0.6</text>
<text x="124" y="185.9" font-size="13.5" text-anchor="end" fill="#333">0.4</text>
<text x="124" y="202.9" font-size="13.5" text-anchor="end" fill="#333">0.2</text>
<text x="124" y="215.9" font-size="13.5" text-anchor="end" fill="#333">0.0</text>
<text x="124" y="223.9" font-size="13.5" text-anchor="end" fill="#333">1.0</text>
<text x="124" y="237.9" font-size="13.5" text-anchor="end" fill="#333">0.8</text>
<text x="124" y="254.9" font-size="13.5" text-anchor="end" fill="#333">0.6</text>
<text x="124" y="271.9" font-size="13.5" text-anchor="end" fill="#333">0.4</text>
<text x="124" y="288.9" font-size="13.5" text-anchor="end" fill="#333">0.2</text>
<text x="124" y="301.9" font-size="13.5" text-anchor="end" fill="#333">0.0</text>
<text x="124" y="309.9" font-size="13.5" text-anchor="end" fill="#333">1.0</text>
<text x="124" y="323.9" font-size="13.5" text-anchor="end" fill="#333">0.8</text>
<text x="124" y="340.9" font-size="13.5" text-anchor="end" fill="#333">0.6</text>
<text x="124" y="357.9" font-size="13.5" text-anchor="end" fill="#333">0.4</text>
<text x="124" y="374.9" font-size="13.5" text-anchor="end" fill="#333">0.2</text>
<text x="124" y="387.9" font-size="13.5" text-anchor="end" fill="#333">0.0</text>
<text x="124" y="395.9" font-size="13.5" text-anchor="end" fill="#333">1.0</text>
<text x="124" y="409.9" font-size="13.5" text-anchor="end" fill="#333">0.8</text>
<text x="124" y="426.9" font-size="13.5" text-anchor="end" fill="#333">0.6</text>
<text x="124" y="443.9" font-size="13.5" text-anchor="end" fill="#333">0.4</text>
<text x="124" y="460.9" font-size="13.5" text-anchor="end" fill="#333">0.2</text>
<text x="124" y="473.9" font-size="13.5" text-anchor="end" fill="#333">0.0</text>
<text x="103.23" y="493.9" font-size="14" text-anchor="start" fill="#333" textLength="21.27" lengthAdjust="spacingAndGlyphs">150</text>
<text x="103.23" y="516.9" font-size="14" text-anchor="start" fill="#333" textLength="21.27" lengthAdjust="spacingAndGlyphs">100</text>
<text x="124" y="540.9" font-size="14" text-anchor="end" fill="#333">50</text>
<text x="124" y="559.9" font-size="13.5" text-anchor="end" fill="#333">0</text>
<text x="103.23" y="579.9" font-size="14" text-anchor="start" fill="#333" textLength="21.27" lengthAdjust="spacingAndGlyphs">150</text>
<text x="103.23" y="602.9" font-size="14" text-anchor="start" fill="#333" textLength="21.27" lengthAdjust="spacingAndGlyphs">100</text>
<text x="124" y="626.9" font-size="14" text-anchor="end" fill="#333">50</text>
<text x="124" y="645.9" font-size="13.5" text-anchor="end" fill="#333">0</text>
<text x="103.23" y="665.9" font-size="14" text-anchor="start" fill="#333" textLength="21.27" lengthAdjust="spacingAndGlyphs">150</text>
<text x="103.23" y="688.9" font-size="14" text-anchor="start" fill="#333" textLength="21.27" lengthAdjust="spacingAndGlyphs">100</text>
<text x="124" y="712.9" font-size="14" text-anchor="end" fill="#333">50</text>
<text x="124" y="731.9" font-size="13.5" text-anchor="end" fill="#333">0</text>
<text x="103.23" y="751.9" font-size="14" text-anchor="start" fill="#333" textLength="21.27" lengthAdjust="spacingAndGlyphs">150</text>
<text x="103.23" y="774.9" font-size="14" text-anchor="start" fill="#333" textLength="21.27" lengthAdjust="spacingAndGlyphs">100</text>
<text x="124" y="798.9" font-size="14" text-anchor="end" fill="#333">50</text>
<text x="124" y="817.9" font-size="13.5" text-anchor="end" fill="#333">0</text>
<text transform="translate(75.8,78.3) rotate(-90)" font-size="13" text-anchor="middle" fill="#333" textLength="57" lengthAdjust="spacingAndGlyphs">proxy_ae</text>
<text transform="translate(88.5,78.8) rotate(-90)" font-size="15" text-anchor="middle" fill="#333" textLength="24" lengthAdjust="spacingAndGlyphs">[nT]</text>
<text transform="translate(42,173.3) rotate(-90)" font-size="12.5" text-anchor="middle" fill="#333" textLength="16" lengthAdjust="spacingAndGlyphs">elb</text>
<text transform="translate(52,173.3) rotate(-90)" font-size="12.5" text-anchor="middle" fill="#333" textLength="18" lengthAdjust="spacingAndGlyphs">pef</text>
<text transform="translate(63,173.3) rotate(-90)" font-size="12.5" text-anchor="middle" fill="#333" textLength="13" lengthAdjust="spacingAndGlyphs">en</text>
<text transform="translate(74,173.3) rotate(-90)" font-size="12.5" text-anchor="middle" fill="#333" textLength="56" lengthAdjust="spacingAndGlyphs">spec2plot</text>
<text transform="translate(85,173.3) rotate(-90)" font-size="12.5" text-anchor="middle" fill="#333" textLength="26" lengthAdjust="spacingAndGlyphs">omni</text>
<text transform="translate(96,173.3) rotate(-90)" font-size="12.5" text-anchor="middle" fill="#333" textLength="29" lengthAdjust="spacingAndGlyphs">[keV]</text>
<text transform="translate(42,258.8) rotate(-90)" font-size="12.5" text-anchor="middle" fill="#333" textLength="16" lengthAdjust="spacingAndGlyphs">elb</text>
<text transform="translate(52,258.8) rotate(-90)" font-size="12.5" text-anchor="middle" fill="#333" textLength="18" lengthAdjust="spacingAndGlyphs">pef</text>
<text transform="translate(63,258.8) rotate(-90)" font-size="12.5" text-anchor="middle" fill="#333" textLength="13" lengthAdjust="spacingAndGlyphs">en</text>
<text transform="translate(74,258.8) rotate(-90)" font-size="12.5" text-anchor="middle" fill="#333" textLength="56" lengthAdjust="spacingAndGlyphs">spec2plot</text>
<text transform="translate(85,258.8) rotate(-90)" font-size="12.5" text-anchor="middle" fill="#333" textLength="26" lengthAdjust="spacingAndGlyphs">anti</text>
<text transform="translate(96,258.8) rotate(-90)" font-size="12.5" text-anchor="middle" fill="#333" textLength="29" lengthAdjust="spacingAndGlyphs">[keV]</text>
<text transform="translate(42,344.8) rotate(-90)" font-size="12.5" text-anchor="middle" fill="#333" textLength="16" lengthAdjust="spacingAndGlyphs">elb</text>
<text transform="translate(52,344.8) rotate(-90)" font-size="12.5" text-anchor="middle" fill="#333" textLength="18" lengthAdjust="spacingAndGlyphs">pef</text>
<text transform="translate(63,344.8) rotate(-90)" font-size="12.5" text-anchor="middle" fill="#333" textLength="13" lengthAdjust="spacingAndGlyphs">en</text>
<text transform="translate(74,344.8) rotate(-90)" font-size="12.5" text-anchor="middle" fill="#333" textLength="56" lengthAdjust="spacingAndGlyphs">spec2plot</text>
<text transform="translate(85,344.8) rotate(-90)" font-size="12.5" text-anchor="middle" fill="#333" textLength="26" lengthAdjust="spacingAndGlyphs">perp</text>
<text transform="translate(96,344.8) rotate(-90)" font-size="12.5" text-anchor="middle" fill="#333" textLength="29" lengthAdjust="spacingAndGlyphs">[keV]</text>
<text transform="translate(42,430.8) rotate(-90)" font-size="12.5" text-anchor="middle" fill="#333" textLength="16" lengthAdjust="spacingAndGlyphs">elb</text>
<text transform="translate(52,430.8) rotate(-90)" font-size="12.5" text-anchor="middle" fill="#333" textLength="18" lengthAdjust="spacingAndGlyphs">pef</text>
<text transform="translate(63,430.8) rotate(-90)" font-size="12.5" text-anchor="middle" fill="#333" textLength="13" lengthAdjust="spacingAndGlyphs">en</text>
<text transform="translate(74,430.8) rotate(-90)" font-size="12.5" text-anchor="middle" fill="#333" textLength="56" lengthAdjust="spacingAndGlyphs">spec2plot</text>
<text transform="translate(85,430.8) rotate(-90)" font-size="12.5" text-anchor="middle" fill="#333" textLength="26" lengthAdjust="spacingAndGlyphs">para</text>
<text transform="translate(96,430.8) rotate(-90)" font-size="12.5" text-anchor="middle" fill="#333" textLength="29" lengthAdjust="spacingAndGlyphs">[keV]</text>
<text transform="translate(38,516.8) rotate(-90)" font-size="12.5" text-anchor="middle" fill="#333" textLength="16" lengthAdjust="spacingAndGlyphs">elb</text>
<text transform="translate(48.5,516.8) rotate(-90)" font-size="12.5" text-anchor="middle" fill="#333" textLength="17" lengthAdjust="spacingAndGlyphs">pef</text>
<text transform="translate(59,516.8) rotate(-90)" font-size="12.5" text-anchor="middle" fill="#333" textLength="12" lengthAdjust="spacingAndGlyphs">pa</text>
<text transform="translate(70,516.8) rotate(-90)" font-size="12.5" text-anchor="middle" fill="#333" textLength="56" lengthAdjust="spacingAndGlyphs">spec2plot</text>
<text transform="translate(81,516.8) rotate(-90)" font-size="12.5" text-anchor="middle" fill="#333" textLength="35" lengthAdjust="spacingAndGlyphs">ch0LC</text>
<text transform="translate(92,516.8) rotate(-90)" font-size="12.5" text-anchor="middle" fill="#333" textLength="30" lengthAdjust="spacingAndGlyphs">[deg]</text>
<text transform="translate(38,602.8) rotate(-90)" font-size="12.5" text-anchor="middle" fill="#333" textLength="16" lengthAdjust="spacingAndGlyphs">elb</text>
<text transform="translate(48.5,602.8) rotate(-90)" font-size="12.5" text-anchor="middle" fill="#333" textLength="17" lengthAdjust="spacingAndGlyphs">pef</text>
<text transform="translate(59,602.8) rotate(-90)" font-size="12.5" text-anchor="middle" fill="#333" textLength="12" lengthAdjust="spacingAndGlyphs">pa</text>
<text transform="translate(70,602.8) rotate(-90)" font-size="12.5" text-anchor="middle" fill="#333" textLength="56" lengthAdjust="spacingAndGlyphs">spec2plot</text>
<text transform="translate(81,602.8) rotate(-90)" font-size="12.5" text-anchor="middle" fill="#333" textLength="35" lengthAdjust="spacingAndGlyphs">ch1LC</text>
<text transform="translate(92,602.8) rotate(-90)" font-size="12.5" text-anchor="middle" fill="#333" textLength="30" lengthAdjust="spacingAndGlyphs">[deg]</text>
<text transform="translate(38,688.8) rotate(-90)" font-size="12.5" text-anchor="middle" fill="#333" textLength="16" lengthAdjust="spacingAndGlyphs">elb</text>
<text transform="translate(48.5,688.8) rotate(-90)" font-size="12.5" text-anchor="middle" fill="#333" textLength="17" lengthAdjust="spacingAndGlyphs">pef</text>
<text transform="translate(59,688.8) rotate(-90)" font-size="12.5" text-anchor="middle" fill="#333" textLength="12" lengthAdjust="spacingAndGlyphs">pa</text>
<text transform="translate(70,688.8) rotate(-90)" font-size="12.5" text-anchor="middle" fill="#333" textLength="56" lengthAdjust="spacingAndGlyphs">spec2plot</text>
<text transform="translate(81,688.8) rotate(-90)" font-size="12.5" text-anchor="middle" fill="#333" textLength="35" lengthAdjust="spacingAndGlyphs">ch2LC</text>
<text transform="translate(92,688.8) rotate(-90)" font-size="12.5" text-anchor="middle" fill="#333" textLength="30" lengthAdjust="spacingAndGlyphs">[deg]</text>
<text transform="translate(38,774.8) rotate(-90)" font-size="12.5" text-anchor="middle" fill="#333" textLength="16" lengthAdjust="spacingAndGlyphs">elb</text>
<text transform="translate(48.5,774.8) rotate(-90)" font-size="12.5" text-anchor="middle" fill="#333" textLength="17" lengthAdjust="spacingAndGlyphs">pef</text>
<text transform="translate(59,774.8) rotate(-90)" font-size="12.5" text-anchor="middle" fill="#333" textLength="12" lengthAdjust="spacingAndGlyphs">pa</text>
<text transform="translate(70,774.8) rotate(-90)" font-size="12.5" text-anchor="middle" fill="#333" textLength="56" lengthAdjust="spacingAndGlyphs">spec2plot</text>
<text transform="translate(81,774.8) rotate(-90)" font-size="12.5" text-anchor="middle" fill="#333" textLength="35" lengthAdjust="spacingAndGlyphs">ch3LC</text>
<text transform="translate(92,774.8) rotate(-90)" font-size="12.5" text-anchor="middle" fill="#333" textLength="30" lengthAdjust="spacingAndGlyphs">[deg]</text>
<text transform="translate(49.8,860.3) rotate(-90)" font-size="14" text-anchor="middle" fill="#333" textLength="26.5" lengthAdjust="spacingAndGlyphs">IGRF</text>
<text transform="translate(62,860.9) rotate(-90)" font-size="14.5" text-anchor="middle" fill="#333" textLength="23" lengthAdjust="spacingAndGlyphs">[nT]</text>
<text x="118.5" y="825.9" font-size="13.5" text-anchor="end" fill="#333" textLength="33.5" lengthAdjust="spacingAndGlyphs">6×10</text>
<text x="119" y="819.9" font-size="8.5" text-anchor="start" fill="#333">4</text>
<text x="118.5" y="836.9" font-size="13.5" text-anchor="end" fill="#333" textLength="33.5" lengthAdjust="spacingAndGlyphs">4×10</text>
<text x="119" y="830.9" font-size="8.5" text-anchor="start" fill="#333">4</text>
<text x="118.5" y="851.9" font-size="13.5" text-anchor="end" fill="#333" textLength="33.5" lengthAdjust="spacingAndGlyphs">2×10</text>
<text x="119" y="845.9" font-size="8.5" text-anchor="start" fill="#333">4</text>
<text x="124" y="865.9" font-size="14" text-anchor="end" fill="#333">0</text>
<text x="118.5" y="879.9" font-size="13.5" text-anchor="end" fill="#333" textLength="44" lengthAdjust="spacingAndGlyphs">−2×10</text>
<text x="119" y="873.9" font-size="8.5" text-anchor="start" fill="#333">4</text>
<text x="118.5" y="893.9" font-size="13.5" text-anchor="end" fill="#333" textLength="44" lengthAdjust="spacingAndGlyphs">−4×10</text>
<text x="119" y="887.9" font-size="8.5" text-anchor="start" fill="#333">4</text>
<text x="118.5" y="903.9" font-size="13.5" text-anchor="end" fill="#333" textLength="44" lengthAdjust="spacingAndGlyphs">−6×10</text>
<text x="119" y="897.9" font-size="8.5" text-anchor="start" fill="#333">4</text>
<polyline points="128,87.5 144,85.4 156,84.1 199,84.1 205,85.6 217,86.5 219,87.4 279,87.4 281,86.4 324,86.4 342,83 354.7,79.8 367,77.6 380,75.5 428,75.3 437,77.6 453,80.9 471,83.6 485.7,86.3 498,86.5 503.7,88.1 548,88.3 554,89.3 588.6,89.3 602,76.6 610,67.6 620,56.7 625.7,53.1 664.5,53.1 674.4,55 687,57.3" fill="none" stroke="#000" stroke-width="1"/>
<polyline points="128,890.3 140.4,889.5 159,886.5 174.5,883.7 190,880.3 205.4,875.6 221,870.5 236.4,864 245.7,860.6 248,859.5 263.5,854.4 279,849 294.5,844 310,838.9 325.4,834.3 341,831.6 356.4,828.8 368,827.3 390,826.5 405,826.5 422,828.5 437.7,830 453,832 461,833.4 472.9,836 485.8,840.5 493.5,844.1 505,848.9 518,855.3 525.8,859.8 537.4,865 550.3,870.2 560,872.7 565.4,873.9 581,875.2 595,875 600,874.2 604.6,875 623.8,875 632,876.2 639.5,877.7 646.5,879.2 658,881.7 669.7,884.6 681.3,887.5 687,889.3" fill="none" stroke="#ff0000" stroke-width="1"/>
<polyline points="128,853.9 142,855.2 159,856.3 176,857.3 194.6,858.6 215.5,859.5 241.8,859.5 260,860 330,860.5 341,861.4 390,861.4 396,859.5 414.5,858 430,856.4 531,856.3 534.5,857.7 547,858.5 557.7,859.3 568.5,859.5 579,861.3 593,862.4 622,862.5 626,863.4 629.6,862.5 652,862.5 652.8,861.2 661.5,861 667.4,859.7 675.5,857.6 681.3,856.4 687,855.3" fill="none" stroke="#00ff00" stroke-width="1"/>
<polyline points="128,853.6 143.5,851.6 159,849.6 174.5,847.7 190,845.9 205.4,844.3 221,842.8 236.4,841.9 260,842 266.6,843.1 279,844.3 305,845.6 317.7,847.4 333,849.4 348.6,852 368,855.5 383.5,859 391,859.5 410,859.5 422,856.4 437.7,854 453,850.8 468.6,848.2 488,844 495,842.3 502.7,841.5 526.7,841.5 539,842.7 550,845.4 565.4,848.5 581,851.5 591,853.6 615.7,853.5 631,852.5 644.7,851.3 677,850.4 683.6,851.8 687,852.7" fill="none" stroke="#0000ff" stroke-width="1"/>
<polyline points="128,828.5 140,830 159,832.5 182,835.5 205,839 225,841.7 248,842.3 260,842 279,839.7 294.5,837.7 310,835 325.4,832.7 341,830 356.4,828 368,826.5 405,826.5 414.5,827.3 430,828.5 445.4,829.6 461,831.2 476.4,833.5 488,835.3 503.5,837.6 519,840.2 534.5,841.5 550,842.3 567,843.3 587,844.3 611,844.3 623,843.4 631.4,841.7 646.5,838.5 658,836.7 669.7,834.1 681.3,831.2 687,830.6" fill="none" stroke="#000" stroke-width="1"/>
<rect x="128" y="860" width="560" height="1" fill="#000"/>
<text x="699.93" y="831" font-size="14.5" text-anchor="start" fill="#333" textLength="7.35" lengthAdjust="spacingAndGlyphs">T</text>
<text x="701.03" y="853.5" font-size="13" text-anchor="start" fill="#0000ff" textLength="8.53" lengthAdjust="spacingAndGlyphs">N</text>
<text x="700.83" y="856" font-size="12.5" text-anchor="start" fill="#00ff00" textLength="7.88" lengthAdjust="spacingAndGlyphs">E</text>
<text x="700.8" y="890" font-size="14" text-anchor="start" fill="#ff0000" textLength="8.78" lengthAdjust="spacingAndGlyphs">D</text>
<text transform="translate(694,903.89) rotate(-90)" font-size="7.5" text-anchor="start" fill="#000" textLength="11.51" lengthAdjust="spacingAndGlyphs">Sun</text>
<text transform="translate(694,885.8) rotate(-90)" font-size="7.5" text-anchor="start" fill="#000" textLength="11.88" lengthAdjust="spacingAndGlyphs">Sep</text>
<text transform="translate(694,869.19) rotate(-90)" font-size="7.5" text-anchor="start" fill="#000" textLength="5.75" lengthAdjust="spacingAndGlyphs">3</text>
<text transform="translate(694,862.72) rotate(-90)" font-size="7.5" text-anchor="start" fill="#000" textLength="31.57" lengthAdjust="spacingAndGlyphs">08:06:46</text>
<text transform="translate(694,828.48) rotate(-90)" font-size="7.5" text-anchor="start" fill="#000" textLength="16.92" lengthAdjust="spacingAndGlyphs">2023</text>
<text x="8.03" y="922" font-size="14.5" text-anchor="start" fill="#333" textLength="33.89" lengthAdjust="spacingAndGlyphs">2019</text>
<text x="48.79" y="922" font-size="14.5" text-anchor="start" fill="#333" textLength="21.68" lengthAdjust="spacingAndGlyphs">Jun</text>
<text x="78.2" y="922" font-size="14.5" text-anchor="start" fill="#333" textLength="16.96" lengthAdjust="spacingAndGlyphs">07</text>
<text x="8.2" y="934" font-size="14.5" text-anchor="start" fill="#333" textLength="33.98" lengthAdjust="spacingAndGlyphs">GLON</text>
<text x="49.46" y="934" font-size="14.5" text-anchor="start" fill="#333" textLength="38.78" lengthAdjust="spacingAndGlyphs">(east)</text>
<text x="7.85" y="946" font-size="14.5" text-anchor="start" fill="#333" textLength="31.02" lengthAdjust="spacingAndGlyphs">MLAT</text>
<text x="40.41" y="946" font-size="14.5" text-anchor="start" fill="#333" textLength="9.38" lengthAdjust="spacingAndGlyphs">−</text>
<text x="50.77" y="946" font-size="14.5" text-anchor="start" fill="#333" textLength="52.39" lengthAdjust="spacingAndGlyphs">igrf(dip)</text>
<text x="7.86" y="958" font-size="14.5" text-anchor="start" fill="#333" textLength="22.9" lengthAdjust="spacingAndGlyphs">MLT</text>
<text x="32.61" y="958" font-size="14.5" text-anchor="start" fill="#333" textLength="9.38" lengthAdjust="spacingAndGlyphs">−</text>
<text x="42.25" y="958" font-size="14.5" text-anchor="start" fill="#333" textLength="53.12" lengthAdjust="spacingAndGlyphs">igrf(dip)</text>
<text x="7.53" y="970" font-size="14.5" text-anchor="start" fill="#333" textLength="8.58" lengthAdjust="spacingAndGlyphs">L</text>
<text x="16.91" y="970" font-size="14.5" text-anchor="start" fill="#333" textLength="9.38" lengthAdjust="spacingAndGlyphs">−</text>
<text x="26.65" y="970" font-size="14.5" text-anchor="start" fill="#333" textLength="53.12" lengthAdjust="spacingAndGlyphs">igrf(dip)</text>
<text x="111.56" y="922" font-size="14.5" text-anchor="start" fill="#333" textLength="33.43" lengthAdjust="spacingAndGlyphs">1600</text>
<text x="109.45" y="934" font-size="14.5" text-anchor="start" fill="#333" textLength="37.51" lengthAdjust="spacingAndGlyphs">234.8</text>
<text x="83.21" y="946" font-size="14.5" text-anchor="start" fill="#333" textLength="91.17" lengthAdjust="spacingAndGlyphs">−66.7(−68.5)</text>
<text x="99.37" y="958" font-size="14.5" text-anchor="start" fill="#333" textLength="59.45" lengthAdjust="spacingAndGlyphs">10.0(8.9)</text>
<text x="101.02" y="970" font-size="14.5" text-anchor="start" fill="#333" textLength="52.62" lengthAdjust="spacingAndGlyphs">6.5(8.0)</text>
<text x="298.49" y="922" font-size="14.5" text-anchor="start" fill="#333" textLength="32.48" lengthAdjust="spacingAndGlyphs">1630</text>
<text x="295.22" y="934" font-size="14.5" text-anchor="start" fill="#333" textLength="38.68" lengthAdjust="spacingAndGlyphs">213.0</text>
<text x="279.55" y="946" font-size="14.5" text-anchor="start" fill="#333" textLength="70.41" lengthAdjust="spacingAndGlyphs">41.9(41.5)</text>
<text x="287.81" y="958" font-size="14.5" text-anchor="start" fill="#333" textLength="53.45" lengthAdjust="spacingAndGlyphs">6.1(6.2)</text>
<text x="287.41" y="970" font-size="14.5" text-anchor="start" fill="#333" textLength="53.86" lengthAdjust="spacingAndGlyphs">1.8(1.9)</text>
<text x="484.16" y="922" font-size="14.5" text-anchor="start" fill="#333" textLength="33.33" lengthAdjust="spacingAndGlyphs">1700</text>
<text x="485.83" y="934" font-size="14.5" text-anchor="start" fill="#333" textLength="29.61" lengthAdjust="spacingAndGlyphs">29.4</text>
<text x="465.22" y="946" font-size="14.5" text-anchor="start" fill="#333" textLength="70.74" lengthAdjust="spacingAndGlyphs">23.1(22.5)</text>
<text x="465.42" y="958" font-size="14.5" text-anchor="start" fill="#333" textLength="70.54" lengthAdjust="spacingAndGlyphs">19.0(19.3)</text>
<text x="474.43" y="970" font-size="14.5" text-anchor="start" fill="#333" textLength="53.13" lengthAdjust="spacingAndGlyphs">1.2(1.3)</text>
<text x="670.68" y="922" font-size="14.5" text-anchor="start" fill="#333" textLength="32.69" lengthAdjust="spacingAndGlyphs">1730</text>
<text x="667.94" y="934" font-size="14.5" text-anchor="start" fill="#333" textLength="37.79" lengthAdjust="spacingAndGlyphs">290.5</text>
<text x="641.61" y="946" font-size="14.5" text-anchor="start" fill="#333" textLength="91.58" lengthAdjust="spacingAndGlyphs">−72.6(−77.5)</text>
<text x="652.02" y="958" font-size="14.5" text-anchor="start" fill="#333" textLength="70.33" lengthAdjust="spacingAndGlyphs">13.7(12.8)</text>
<text x="652.04" y="970" font-size="14.5" text-anchor="start" fill="#333" textLength="69.51" lengthAdjust="spacingAndGlyphs">11.4(23.1)</text>
<text x="589.17" y="988.3" font-size="10" text-anchor="start" fill="#333" textLength="26.23" lengthAdjust="spacingAndGlyphs">nflux:</text>
<text x="621.75" y="988.3" font-size="10" text-anchor="start" fill="#333" textLength="42.36" lengthAdjust="spacingAndGlyphs">#/(cm^2</text>
<text x="668.09" y="988.3" font-size="10" text-anchor="start" fill="#333" textLength="5.62" lengthAdjust="spacingAndGlyphs">s</text>
<text x="679.91" y="988.3" font-size="10" text-anchor="start" fill="#333" textLength="8.56" lengthAdjust="spacingAndGlyphs">sr</text>
<text x="692.86" y="988.3" font-size="10" text-anchor="start" fill="#333" textLength="24.48" lengthAdjust="spacingAndGlyphs">MeV)</text>
<text x="589.34" y="998.7" font-size="10" text-anchor="start" fill="#333" textLength="42.06" lengthAdjust="spacingAndGlyphs">Created:</text>
<text x="634.94" y="998.7" font-size="10" text-anchor="start" fill="#333" textLength="14.29" lengthAdjust="spacingAndGlyphs">Sun</text>
<text x="654.41" y="998.7" font-size="10" text-anchor="start" fill="#333" textLength="19.35" lengthAdjust="spacingAndGlyphs">Sep</text>
<text x="686.52" y="998.7" font-size="10" text-anchor="start" fill="#333" textLength="7.04" lengthAdjust="spacingAndGlyphs">3</text>
<text x="698.25" y="998.7" font-size="10" text-anchor="start" fill="#333" textLength="43.34" lengthAdjust="spacingAndGlyphs">13:06:46</text>
<text x="747.34" y="998.7" font-size="10" text-anchor="start" fill="#333" textLength="24.75" lengthAdjust="spacingAndGlyphs">2023</text>
</svg>
</body></html>
